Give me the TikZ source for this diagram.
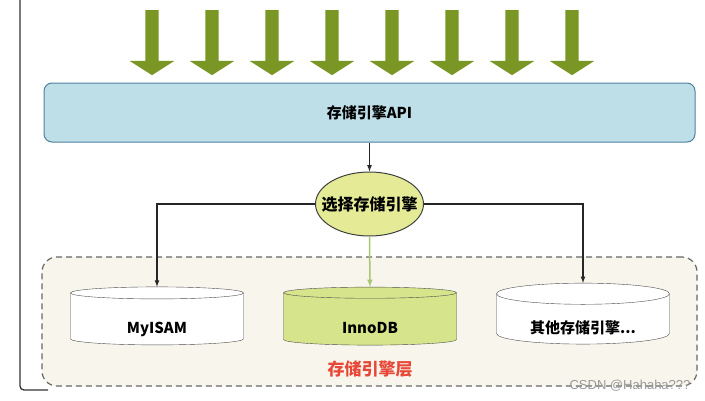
\documentclass[tikz,border=0pt]{standalone}
\usepackage{fontspec}
\setmainfont{Noto Sans CJK SC}
\newfontfamily\wmfont{Liberation Sans}
\usetikzlibrary{arrows,shapes,positioning}
\definecolor{arrowgreen}{RGB}{122,150,36}
\definecolor{apiblue}{RGB}{190,222,232}
\definecolor{apiborder}{RGB}{80,130,160}
\definecolor{selgreen}{RGB}{228,234,150}
\definecolor{innogreen}{RGB}{214,228,140}
\definecolor{layerbg}{RGB}{248,246,236}
\definecolor{layerred}{RGB}{232,72,56}
\definecolor{lightarrow}{RGB}{168,198,116}

\tikzset{
  bigarrow/.style={single arrow, shape border rotate=270, fill=arrowgreen, draw=none,
    minimum height=65pt, minimum width=44pt, single arrow head extend=15.5pt,
    single arrow tip angle=115, inner sep=6.5pt},
  engine/.style={cylinder, shape border rotate=90, draw=black!70, fill=white,
    aspect=0.2, minimum width=173pt, minimum height=58pt, inner sep=0pt,
    text height=29pt, text depth=0pt,
    font=\bfseries\fontsize{15}{17}\selectfont},
  link/.style={-latex, line width=1.2pt, black!85}
}

\begin{document}
\begin{tikzpicture}[x=1pt,y=-1pt]
    \useasboundingbox (0,0) rectangle (705,400);
    \fill[white] (0,0) rectangle (705,400);

    % frame on the left
    \draw[line width=1.3pt, black!80, rounded corners=4pt] (20,0) -- (20,390) -- (48,390);

    % requests coming in
    \node[bigarrow](a1) at (152,40.5){};
    \node[bigarrow, right of=a1, node distance=60pt](a2){};
    \node[bigarrow, right of=a2, node distance=60pt](a3){};
    \node[bigarrow, right of=a3, node distance=60pt](a4){};
    \node[bigarrow, right of=a4, node distance=60pt](a5){};
    \node[bigarrow, right of=a5, node distance=60pt](a6){};
    \node[bigarrow, right of=a6, node distance=60pt](a7){};
    \node[bigarrow, right of=a7, node distance=60pt](a8){};

    \node[rectangle, rounded corners=8pt, draw=apiborder, line width=1pt, fill=apiblue,
      minimum width=651pt, minimum height=59pt,
      font=\bfseries\fontsize{15}{17}\selectfont](api) at (369.5,112.5){存储引擎API};

    \node[ellipse, draw=black!75, line width=1pt, fill=selgreen, minimum width=108pt,
      minimum height=64pt, inner sep=0pt, below=29pt of api,
      label={[font=\bfseries\fontsize{16}{18}\selectfont]center:选择存储引擎}](sel){};

    % storage engine layer
    \node[rectangle, rounded corners=15pt, draw=black!60, dash pattern=on 6pt off 4pt,
      line width=1.2pt, fill=layerbg, minimum width=655pt, minimum height=129pt](layer)
      at (369.5,321.5){};

    \node[engine](n0) at (157,319){MyISAM};
    \node[engine, fill=innogreen, right of=n0, node distance=213pt](n1){InnoDB};
    \node[engine, right of=n1, node distance=213pt](n2){其他存储引擎...};

    \node[text=layerred, font=\bfseries\fontsize{17}{19}\selectfont](lay) at (370,369){存储引擎层};

    \draw[link] (api) -- (sel);
    \draw[link] (sel.west) -| (n0.north);
    \draw[link] (sel.east) -| (n2.north);
    \draw[-latex, line width=1.5pt, lightarrow] (sel.south) -- (n1.north);

    \node[text=black!40, font=\wmfont\fontsize{13}{15}\selectfont](wm) at (630,386){CSDN @Hahaha???};
\end{tikzpicture}
\end{document}
